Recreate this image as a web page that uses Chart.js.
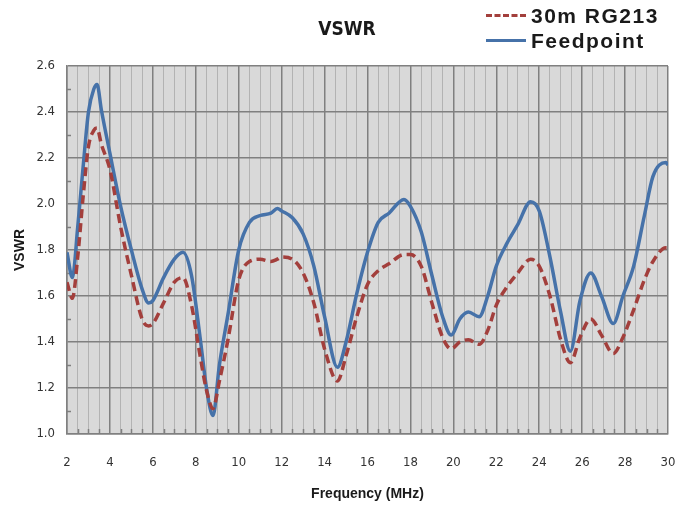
<!DOCTYPE html>
<html>
<head>
<meta charset="utf-8">
<script src="https://cdn.jsdelivr.net/npm/chart.js@4.4.0/dist/chart.umd.min.js"></script>
<style>
    body { margin: 0; background: #fff; }
    #wrap { position: relative; width: 689px; height: 506px; }
    #title { position: absolute; left: 297px; width: 100px; top: 16px; text-align: center; font-family: "Liberation Sans Narrow", "DejaVu Sans Condensed", sans-serif; font-weight: bold; font-size: 19px; line-height: 24px; color: #1a1a1a; }
    #legend { position: absolute; left: 486px; top: 3px; font-family: "Liberation Sans", Arial, sans-serif; font-weight: bold; font-size: 21px; letter-spacing: 1.5px; color: #1a1a1a; }
    #legend div { height: 25px; line-height: 25px; white-space: nowrap; }
    #legend span.sw { display: inline-block; width: 40px; vertical-align: middle; margin-right: 5px; position: relative; top: -2px; }
</style>
</head>
<body>
<div id="wrap">
    <canvas id="vswr-chart" width="689" height="506"></canvas>
    <div id="title">VSWR</div>
    <div id="legend"></div>
</div>
<script>
// Frequenz (MHz) und VSWR-Werte
const freqMHz = [2.0, 2.25, 2.5, 2.75, 3.0, 3.25, 3.4, 3.6, 4.0, 4.5,
    5.0, 5.5, 5.8, 6.0, 6.5, 7.0, 7.4, 7.8, 8.2, 8.5,
    8.8, 9.1, 9.5, 10.0, 10.5, 11.0, 11.5, 11.8, 12.0, 12.5,
    13.0, 13.5, 14.0, 14.6, 15.0, 15.5, 16.0, 16.5, 17.0, 17.7,
    18.0, 18.5, 19.0, 19.5, 19.9, 20.3, 20.7, 21.2, 21.6, 22.0,
    22.5, 23.0, 23.6, 24.0, 24.5, 25.0, 25.45, 25.9, 26.4, 26.9,
    27.45, 27.9, 28.4, 28.9, 29.3, 29.9, 30.0];

const feedpoint = [1.79, 1.68, 1.90, 2.16, 2.40, 2.50, 2.52, 2.41, 2.22, 1.99,
    1.80, 1.63, 1.57, 1.58, 1.68, 1.76, 1.79, 1.69, 1.42, 1.20,
    1.08, 1.30, 1.52, 1.80, 1.92, 1.95, 1.96, 1.98, 1.97, 1.94,
    1.87, 1.73, 1.51, 1.29, 1.40, 1.61, 1.79, 1.92, 1.96, 2.02,
    1.99, 1.88, 1.69, 1.51, 1.43, 1.50, 1.53, 1.51, 1.60, 1.73,
    1.83, 1.91, 2.01, 1.97, 1.77, 1.53, 1.36, 1.58, 1.70, 1.60,
    1.48, 1.60, 1.73, 1.95, 2.12, 2.18, 2.17];

const rg213 = [1.66, 1.59, 1.77, 2.03, 2.25, 2.32, 2.33, 2.26, 2.15, 1.90,
    1.69, 1.50, 1.47, 1.48, 1.57, 1.66, 1.68, 1.56, 1.34, 1.19,
    1.11, 1.23, 1.41, 1.67, 1.75, 1.76, 1.75, 1.76, 1.77, 1.76,
    1.70, 1.57, 1.37, 1.23, 1.34, 1.51, 1.65, 1.71, 1.74, 1.78,
    1.78, 1.73, 1.57, 1.42, 1.37, 1.40, 1.41, 1.39, 1.45, 1.56,
    1.64, 1.70, 1.76, 1.73, 1.60, 1.41, 1.31, 1.42, 1.50, 1.43,
    1.35, 1.42, 1.54, 1.67, 1.75, 1.81, 1.81];

// Beschriftete Achsenwerte
const xLabelTicks = [2, 4, 6, 8, 10, 12, 14, 16, 18, 20, 22, 24, 26, 28, 30];
const yLabelTicks = [1.0, 1.2, 1.4, 1.6, 1.8, 2.0, 2.2, 2.4, 2.6];

const blue = '#4672a9';
const red = '#a33f3c';

function toPoints(values) {
    return freqMHz.map(function (f, i) { return { x: f, y: values[i] }; });
}

function isLabelled(list, v) {
    return list.some(function (t) { return Math.abs(t - v) < 1e-6; });
}

// Hintergrund der Zeichenfläche und kleine Teilstriche
const plotArea = {
    id: 'plotArea',
    beforeDraw: function (chart) {
        const a = chart.chartArea;
        const ctx = chart.ctx;
        ctx.save();
        ctx.fillStyle = '#d9d9d9';
        ctx.fillRect(a.left, a.top, a.right - a.left, a.bottom - a.top);
        ctx.restore();
    },
    beforeDatasetsDraw: function (chart) {
        const a = chart.chartArea;
        const ctx = chart.ctx;
        const xs = chart.scales.x, ys = chart.scales.y;
        ctx.save();
        ctx.strokeStyle = '#7f7f7f';
        ctx.lineWidth = 1.5;
        ys.ticks.forEach(function (t) {
            if (isLabelled(yLabelTicks, t.value)) return;
            const py = Math.round(ys.getPixelForValue(t.value)) + 0.5;
            ctx.beginPath();
            ctx.moveTo(a.left, py);
            ctx.lineTo(a.left + 4, py);
            ctx.stroke();
        });
        xs.ticks.forEach(function (t) {
            if (isLabelled(xLabelTicks, t.value)) return;
            const px = Math.round(xs.getPixelForValue(t.value)) + 0.5;
            ctx.beginPath();
            ctx.moveTo(px, a.bottom);
            ctx.lineTo(px, a.bottom - 5);
            ctx.stroke();
        });
        ctx.restore();
    }
};

const chart = new Chart(document.getElementById('vswr-chart'), {
    type: 'line',
    data: {
        datasets: [{
            label: '30m RG213',
            data: toPoints(rg213),
            borderColor: red,
            borderWidth: 3.5,
            borderDash: [9, 5],
            pointRadius: 0,
            cubicInterpolationMode: 'monotone',
            fill: false
        }, {
            label: 'Feedpoint',
            data: toPoints(feedpoint),
            borderColor: blue,
            borderWidth: 3.5,
            pointRadius: 0,
            cubicInterpolationMode: 'monotone',
            fill: false
        }]
    },
    options: {
        responsive: false,
        animation: false,
        layout: { padding: { left: 0, right: 21, top: 66, bottom: 0 } },
        plugins: {
            legend: { display: false },
            tooltip: { enabled: false },
            title: { display: false }
        },
        scales: {
            x: {
                type: 'linear',
                min: 2,
                max: 30,
                afterFit: function (scale) {
                    scale.height = 72;
                    scale.paddingLeft = 0;
                    scale.paddingRight = 0;
                },
                border: { color: '#808080', width: 1.5 },
                grid: {
                    drawTicks: false,
                    color: function (c) { return isLabelled(xLabelTicks, c.tick.value) ? '#808080' : '#b3b3b3'; },
                    lineWidth: function (c) { return isLabelled(xLabelTicks, c.tick.value) ? 1.5 : 1; }
                },
                ticks: {
                    stepSize: 0.5,
                    autoSkip: false,
                    maxRotation: 0,
                    padding: 21,
                    color: '#333',
                    font: { family: '"Liberation Sans Narrow", "DejaVu Sans Condensed", sans-serif', size: 13 },
                    callback: function (v) { return isLabelled(xLabelTicks, v) ? String(Math.round(v)) : ''; }
                },
                title: {
                    display: true,
                    text: 'Frequency (MHz)',
                    color: '#1a1a1a',
                    font: { family: '"Liberation Sans", Arial, sans-serif', size: 14, weight: 'bold', lineHeight: 1.2 },
                    padding: { top: 0, bottom: 3 }
                }
            },
            y: {
                min: 1.0,
                max: 2.6,
                afterFit: function (scale) {
                    scale.width = 67;
                    scale.paddingTop = 0;
                },
                border: { color: '#808080', width: 1.5 },
                grid: {
                    drawTicks: false,
                    color: function (c) { return isLabelled(yLabelTicks, c.tick.value) ? '#808080' : 'rgba(0,0,0,0)'; },
                    lineWidth: 1.5
                },
                ticks: {
                    stepSize: 0.1,
                    autoSkip: false,
                    padding: 12,
                    color: '#333',
                    font: { family: '"Liberation Sans Narrow", "DejaVu Sans Condensed", sans-serif', size: 13 },
                    callback: function (v) { return isLabelled(yLabelTicks, v) ? v.toFixed(1) : ''; }
                },
                title: {
                    display: true,
                    text: 'VSWR',
                    color: '#1a1a1a',
                    font: { family: '"Liberation Sans", Arial, sans-serif', size: 14, weight: 'bold', lineHeight: 1.2 },
                    padding: { top: 12, bottom: 0 }
                }
            }
        }
    },
    plugins: [plotArea]
});

// Legende oben rechts
const legendBox = document.getElementById('legend');
chart.data.datasets.forEach(function (ds) {
    const row = document.createElement('div');
    const sw = document.createElement('span');
    sw.className = 'sw';
    sw.style.borderTop = (ds.borderDash ? '3px dashed ' : '3px solid ') + ds.borderColor;
    row.appendChild(sw);
    row.appendChild(document.createTextNode(ds.label));
    legendBox.appendChild(row);
});
</script>
</body>
</html>
